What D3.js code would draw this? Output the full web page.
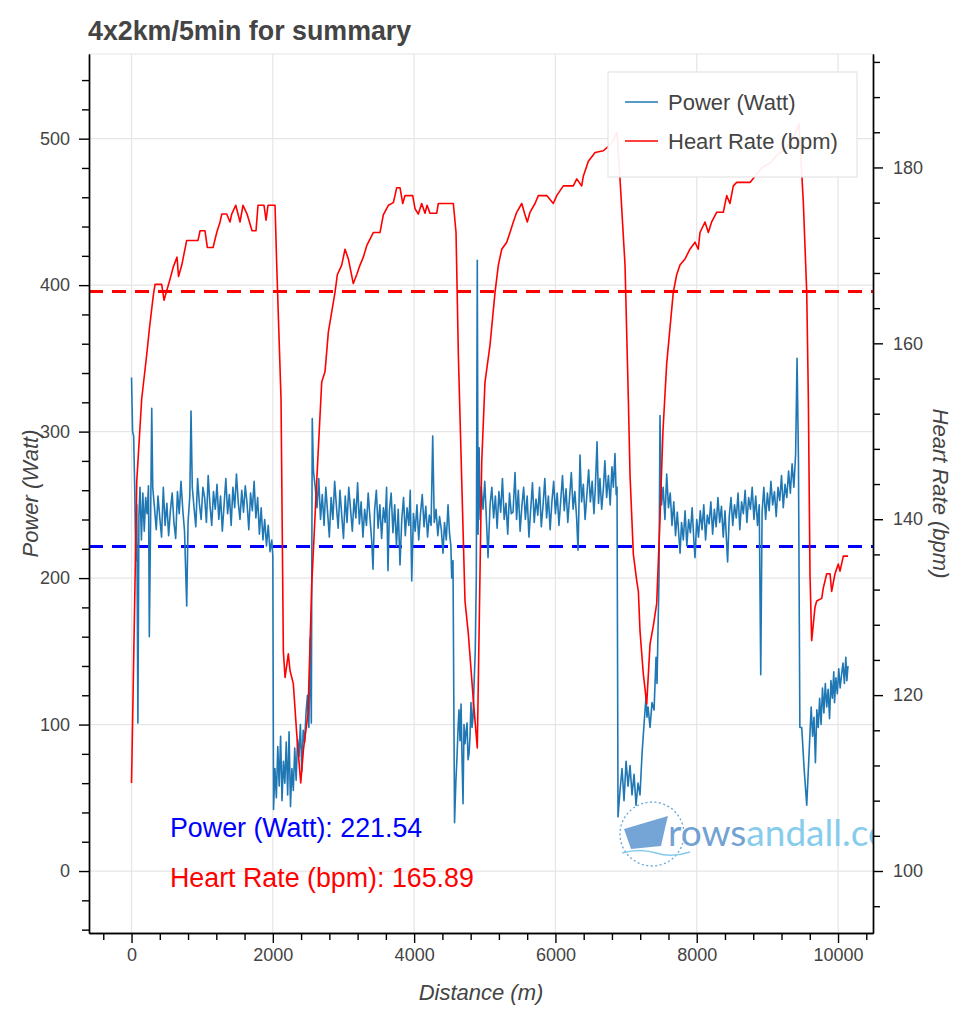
<!DOCTYPE html>
<html><head><meta charset="utf-8">
<script src="https://cdn.jsdelivr.net/npm/d3@7"></script>
<style>
body{margin:0;background:#fff;}
svg{display:block;font-family:"Liberation Sans",Arial,Helvetica,sans-serif;}
</style>
</head><body>
<svg id="chart" width="960" height="1010"></svg>
<script>
// ---------------- data ----------------
const chartTitle = "4x2km/5min for summary";
const seriesNames = ["Power (Watt)", "Heart Rate (bpm)"];
const avgPower = 221.54;
const avgHR = 165.89;

const distanceTicks = [0, 2000, 4000, 6000, 8000, 10000];
const powerTicks = [0, 100, 200, 300, 400, 500];
const hrTicks = [100, 120, 140, 160, 180];

// [distance m, power W]
const powerSeries = [
[0,337],[15,300],[30,297],[45,262],[60,212],[75,250],[90,101],[105,243],[120,262],[140,226],
[160,258],[180,232],[200,255],[220,244],[240,263],[252,160],[270,240],[286,316],[300,262],[325,248],
[350,233],[375,256],[400,241],[425,228],[450,262],[475,236],[500,251],[525,229],[550,246],[575,258],
[600,238],[625,227],[650,259],[675,244],[700,266],[725,247],[750,232],[781,181],[800,238],[825,256],
[842,314],[860,262],[885,248],[910,235],[935,268],[960,251],[985,240],[1010,262],[1035,255],[1060,238],
[1085,270],[1110,250],[1135,236],[1160,259],[1185,247],[1210,264],[1235,240],[1260,256],[1285,232],[1310,250],
[1335,268],[1360,244],[1385,257],[1410,236],[1435,262],[1460,248],[1485,271],[1510,252],[1535,240],[1560,260],
[1585,245],[1610,263],[1635,251],[1660,233],[1685,258],[1710,246],[1735,266],[1760,241],[1785,255],[1810,230],
[1835,248],[1860,226],[1885,240],[1910,222],[1935,236],[1960,218],[1985,226],[2000,215],[2010,42],
[2030,70],[2050,50],[2070,85],[2090,58],[2110,92],[2130,48],[2150,75],[2170,60],[2190,88],[2210,52],
[2230,95],[2250,44],[2270,70],[2290,55],[2310,84],[2330,62],[2350,90],[2370,78],[2390,100],[2410,68],
[2430,96],[2450,88],[2470,108],[2490,120],[2510,98],[2530,159],[2545,101],[2558,309],[2575,273],[2600,262],
[2625,248],[2650,268],[2675,240],[2700,257],[2725,236],[2750,262],[2775,245],[2800,228],[2825,255],[2850,240],
[2875,266],[2900,249],[2925,234],[2950,260],[2975,243],[3000,227],[3025,256],[3050,238],[3075,262],[3100,247],
[3125,232],[3150,254],[3175,241],[3200,265],[3225,237],[3250,252],[3275,228],[3300,247],[3325,236],[3350,258],
[3375,241],[3400,225],[3418,206],[3440,246],[3465,260],[3490,234],[3515,250],[3540,227],[3565,248],[3590,238],
[3610,262],[3630,205],[3650,246],[3675,258],[3700,231],[3725,250],[3750,222],[3775,247],[3800,209],[3825,240],
[3850,255],[3875,229],[3900,248],[3925,236],[3945,260],[3966,198],[3990,244],[4015,232],[4040,250],[4065,226],
[4090,244],[4115,257],[4140,235],[4165,249],[4190,228],[4215,243],[4240,236],[4263,297],[4285,238],[4310,247],
[4335,229],[4360,242],[4385,233],[4409,217],[4430,238],[4455,226],[4480,250],[4500,231],[4520,222],[4532,200],
[4550,212],[4572,33],[4590,60],[4607,78],[4622,98],[4635,110],[4650,89],[4664,114],[4680,72],[4692,46],
[4706,100],[4720,87],[4735,95],[4749,101],[4763,76],[4777,80],[4791,92],[4805,115],[4820,98],[4834,105],
[4850,130],[4865,150],[4880,200],[4894,417],[4905,230],[4920,289],[4935,240],[4950,262],
[4975,247],[5000,266],[5025,238],[5046,214],[5075,250],[5100,262],[5125,241],[5150,256],[5175,234],[5200,259],
[5225,245],[5250,268],[5275,240],[5300,251],[5325,230],[5350,258],[5375,244],[5400,245],[5428,272],[5450,240],
[5475,260],[5500,232],[5525,249],[5550,262],[5575,240],[5600,256],[5625,228],[5650,247],[5675,265],[5700,238],
[5725,254],[5750,243],[5775,262],[5800,235],[5825,250],[5850,268],[5875,241],[5900,256],[5925,233],[5950,252],
[5975,266],[6000,244],[6025,258],[6050,236],[6075,253],[6100,270],[6125,246],[6150,261],[6175,238],[6200,255],
[6225,272],[6250,247],[6275,259],[6300,241],[6320,219],[6348,284],[6370,252],[6395,264],[6420,240],[6445,257],
[6470,274],[6495,252],[6520,266],[6545,244],[6565,262],[6589,293],[6610,251],[6630,268],[6655,247],[6680,262],
[6700,280],[6725,255],[6750,270],[6775,250],[6800,276],[6820,262],[6843,285],[6860,257],[6872,262],[6886,37],
[6914,55],[6943,70],[6971,48],[7000,75],[7028,58],[7056,72],[7084,52],[7113,66],[7141,45],[7169,60],
[7197,52],[7226,80],[7254,100],[7282,119],[7296,105],[7311,112],[7339,98],[7367,115],[7396,110],[7424,146],
[7438,128],[7466,200],[7480,311],[7502,250],[7525,262],[7550,240],[7575,271],[7600,248],[7625,258],[7650,236],
[7675,252],[7700,229],[7725,245],[7764,217],[7785,238],[7810,226],[7835,246],[7860,222],[7885,240],[7910,231],
[7935,248],[7960,225],[7976,214],[8000,240],[8025,228],[8050,246],[8075,233],[8100,250],[8125,226],[8150,243],
[8175,237],[8200,252],[8225,230],[8250,247],[8275,235],[8300,255],[8325,238],[8350,249],[8375,228],[8400,246],
[8437,211],[8460,242],[8485,255],[8510,236],[8535,250],[8560,241],[8585,258],[8610,233],[8635,252],[8660,244],
[8685,260],[8710,238],[8735,255],[8760,247],[8785,262],[8810,240],[8835,256],[8860,236],[8885,250],[8906,134],
[8925,245],[8950,262],[8975,240],[9000,258],[9025,246],[9050,266],[9075,250],[9100,259],[9125,242],[9150,262],
[9175,253],[9200,270],[9225,248],[9250,264],[9275,255],[9300,273],[9325,258],[9350,278],[9375,262],[9400,285],
[9420,350],[9440,280],[9460,98],[9486,98],[9520,70],[9557,45],[9590,80],[9620,112],[9640,92],[9660,105],
[9680,74],[9700,110],[9720,98],[9740,118],[9760,100],[9780,125],[9800,108],[9820,128],[9840,112],[9860,124],
[9880,104],[9900,130],[9920,118],[9940,136],[9950,115],[9970,132],[9990,121],[10010,138],[10030,125],[10050,134],
[10070,142],[10090,128],[10110,146],[10125,130],[10141,140]
];

// [distance m, heart rate bpm]
const hrSeries = [
[0,110.0],[74,144.3],[144,153.7],[215,158.7],[252,161.6],[309,165.5],[333,166.7],[427,166.7],[460,164.9],[545,167.3],
[592,168.7],[644,169.8],[665,167.6],[711,168.9],[781,171.7],[941,171.7],[970,172.8],[1040,172.8],[1073,170.9],[1154,170.9],
[1206,172.6],[1253,173.8],[1277,174.7],[1347,174.7],[1394,173.8],[1418,174.7],[1475,175.7],[1536,173.8],[1578,175.7],[1635,174.7],
[1706,172.8],[1762,172.8],[1790,175.7],[1875,175.7],[1904,174.0],[1932,175.7],[2031,175.7],[2055,168.9],[2116,153.7],[2149,125.0],
[2173,122.0],[2219,124.7],[2243,122.8],[2290,121.3],[2338,115.6],[2395,110.0],[2432,113.7],[2498,117.9],[2551,132.6],[2621,144.3],
[2692,155.6],[2739,156.8],[2786,161.3],[2880,165.8],[2913,167.8],[2975,168.9],[3022,170.7],[3069,169.6],[3139,166.8],[3187,167.8],
[3234,168.9],[3281,169.8],[3329,171.1],[3422,172.6],[3517,172.6],[3564,174.6],[3635,175.7],[3706,176.0],[3754,177.7],[3800,177.7],
[3839,175.9],[3871,176.8],[3980,176.8],[4013,175.3],[4059,174.7],[4107,175.9],[4154,174.8],[4183,175.7],[4225,174.8],[4320,174.8],
[4342,175.9],[4555,175.9],[4593,172.6],[4626,158.7],[4674,144.3],[4720,130.7],[4767,127.0],[4838,119.4],[4894,114.0],[4957,146.6],
[5003,155.6],[5074,159.8],[5145,165.8],[5192,168.9],[5240,170.7],[5311,171.5],[5357,172.6],[5404,173.8],[5452,174.9],[5523,175.9],
[5570,174.6],[5602,173.8],[5640,174.9],[5711,175.9],[5758,176.8],[5877,176.8],[5970,175.9],[6018,176.8],[6112,177.9],[6253,177.9],
[6302,178.7],[6372,177.9],[6395,179.0],[6466,180.7],[6561,181.7],[6678,181.9],[6749,182.4],[6815,183.0],[6872,184.0],[6914,178.7],
[6985,168.9],[7032,153.7],[7056,145.0],[7103,136.0],[7151,133.0],[7174,131.8],[7197,127.3],[7244,122.4],[7292,119.0],[7339,125.8],
[7386,127.9],[7433,130.4],[7480,140.0],[7522,150.0],[7574,157.6],[7668,165.8],[7716,167.8],[7763,168.9],[7834,169.6],[7904,170.7],
[7975,171.5],[8022,170.7],[8046,172.6],[8117,173.8],[8164,172.6],[8211,173.8],[8282,174.9],[8376,174.9],[8424,176.8],[8470,175.9],
[8518,177.9],[8565,178.3],[8754,178.3],[8825,179.0],[8924,180.0],[9037,180.5],[9150,181.5],[9249,182.0],[9320,183.0],[9405,184.0],
[9447,185.0],[9486,179.4],[9509,176.0],[9557,165.8],[9580,153.7],[9603,133.8],[9627,126.2],[9674,130.0],[9698,130.7],[9769,131.0],
[9792,132.2],[9840,133.8],[9887,133.8],[9910,131.8],[9957,133.8],[10004,134.9],[10028,134.1],[10075,135.8],[10141,135.8]
];

// ---------------- layout ----------------
const L = 89, R = 873, T = 54, B = 933;
const svg = d3.select("#chart");
const x = d3.scaleLinear().domain([-602, 10495]).range([L, R]);
const yP = d3.scaleLinear().domain([-42.3, 557.8]).range([B, T]);
const yH = d3.scaleLinear().domain([92.95, 192.9]).range([B, T]);

const gridColor = "#e5e5e5";
const textColor = "#444";
const powerColor = "#1f77b4";

// grid
const grid = svg.append("g");
grid.selectAll(".gx").data(distanceTicks).join("line")
  .attr("x1", d => x(d)).attr("x2", d => x(d)).attr("y1", T).attr("y2", B)
  .attr("stroke", gridColor).attr("stroke-width", 1.2);
grid.selectAll(".gy").data(powerTicks).join("line")
  .attr("x1", L).attr("x2", R).attr("y1", d => yP(d)).attr("y2", d => yP(d))
  .attr("stroke", gridColor).attr("stroke-width", 1.2);
svg.append("line").attr("x1", L).attr("x2", R).attr("y1", T).attr("y2", T)
  .attr("stroke", gridColor).attr("stroke-width", 1.2);

// clip
svg.append("clipPath").attr("id", "plotclip").append("rect")
  .attr("x", L).attr("y", T).attr("width", R - L).attr("height", B - T);
const plot = svg.append("g").attr("clip-path", "url(#plotclip)");

// watermark
const wm = plot.append("g").attr("opacity", 0.85);
wm.append("circle").attr("cx", 652).attr("cy", 834).attr("r", 32)
  .attr("fill", "none").attr("stroke", "#4a9ad6").attr("stroke-width", 1.3)
  .attr("stroke-dasharray", "2,2.5");
wm.append("path").attr("d", "M624,829 L668,816 L666,824 L661,846 L631,849 Z")
  .attr("fill", "#5d95cf");
wm.append("path").attr("d", "M622,853 Q640,848 656,853 T690,852")
  .attr("fill", "none").attr("stroke", "#6ec3ea").attr("stroke-width", 1.5);
const wmText = wm.append("text").attr("x", 668).attr("y", 846)
  .attr("font-size", 37).attr("font-family", "Lato, 'Liberation Sans', sans-serif");
wmText.append("tspan").attr("fill", "#5a92cc").text("rows");
wmText.append("tspan").attr("fill", "#72c4ea").text("andall.com");

// average lines
plot.append("line").attr("x1", L).attr("x2", R)
  .attr("y1", yP(avgPower)).attr("y2", yP(avgPower))
  .attr("stroke", "#0000ff").attr("stroke-width", 3).attr("stroke-dasharray", "14,9");
plot.append("line").attr("x1", L).attr("x2", R)
  .attr("y1", yH(avgHR)).attr("y2", yH(avgHR))
  .attr("stroke", "#ff0000").attr("stroke-width", 3).attr("stroke-dasharray", "14,9");

// series lines
const lineP = d3.line().x(d => x(d[0])).y(d => yP(d[1]));
const lineH = d3.line().x(d => x(d[0])).y(d => yH(d[1]));
plot.append("path").datum(powerSeries).attr("d", lineP)
  .attr("fill", "none").attr("stroke", powerColor).attr("stroke-width", 1.6)
  .attr("stroke-linejoin", "round");
plot.append("path").datum(hrSeries).attr("d", lineH)
  .attr("fill", "none").attr("stroke", "#ff0000").attr("stroke-width", 1.6)
  .attr("stroke-linejoin", "round");

// annotations
svg.append("text").attr("x", 170).attr("y", 837).attr("font-size", 26.8)
  .attr("fill", "#0000ff").text(`${seriesNames[0]}: ${avgPower.toFixed(2)}`);
svg.append("text").attr("x", 170).attr("y", 887).attr("font-size", 26.8)
  .attr("fill", "#ff0000").text(`${seriesNames[1]}: ${avgHR.toFixed(2)}`);

// axes
function styleAxis(g) {
  g.attr("font-family", null).attr("font-size", null);
  g.selectAll("path.domain").attr("stroke", "#000").attr("stroke-width", 1.4);
  g.selectAll(".tick line").attr("stroke", "#000").attr("stroke-width", 1.4);
  g.selectAll(".tick text").attr("fill", textColor).attr("font-size", 18);
}
const minorP = d3.range(-40, 541, 20).filter(v => v % 100 !== 0);
const minorH = d3.range(96, 193, 4).filter(v => v % 20 !== 0);
const minorX = d3.range(-400, 10401, 400).filter(v => v % 2000 !== 0);

svg.append("g").attr("transform", `translate(${L},0)`)
  .call(d3.axisLeft(yP).tickValues(minorP).tickSize(7).tickSizeOuter(0).tickFormat(""))
  .call(styleAxis);
svg.append("g").attr("transform", `translate(${L},0)`)
  .call(d3.axisLeft(yP).tickValues(powerTicks).tickSize(10).tickSizeOuter(0).tickPadding(9))
  .call(styleAxis);

svg.append("g").attr("transform", `translate(${R},0)`)
  .call(d3.axisRight(yH).tickValues(minorH).tickSize(7).tickSizeOuter(0).tickFormat(""))
  .call(styleAxis);
svg.append("g").attr("transform", `translate(${R},0)`)
  .call(d3.axisRight(yH).tickValues(hrTicks).tickSize(10).tickSizeOuter(0).tickPadding(10))
  .call(styleAxis);

svg.append("g").attr("transform", `translate(0,${B})`)
  .call(d3.axisBottom(x).tickValues(minorX).tickSize(7).tickSizeOuter(0).tickFormat(""))
  .call(styleAxis);
svg.append("g").attr("transform", `translate(0,${B})`)
  .call(d3.axisBottom(x).tickValues(distanceTicks).tickSize(10).tickSizeOuter(0).tickPadding(5).tickFormat(d3.format("d")))
  .call(styleAxis);

// axis titles
svg.append("text").attr("transform", `translate(30,${(T + B) / 2}) rotate(-90)`)
  .attr("text-anchor", "middle").attr("dominant-baseline", "central")
  .attr("font-size", 22).attr("font-style", "italic").attr("fill", textColor).text(seriesNames[0]);
svg.append("text").attr("transform", `translate(940,${(T + B) / 2}) rotate(90)`)
  .attr("text-anchor", "middle").attr("dominant-baseline", "central")
  .attr("font-size", 22).attr("font-style", "italic").attr("fill", textColor).text(seriesNames[1]);
svg.append("text").attr("x", (L + R) / 2).attr("y", 992)
  .attr("text-anchor", "middle").attr("dominant-baseline", "central")
  .attr("font-size", 22).attr("font-style", "italic").attr("fill", textColor).text("Distance (m)");

// title
svg.append("text").attr("x", 88).attr("y", 40).attr("font-size", 26.8)
  .attr("font-weight", "bold").attr("fill", textColor).text(chartTitle);

// legend
const lg = svg.append("g");
lg.append("rect").attr("x", 608).attr("y", 72).attr("width", 249).attr("height", 105)
  .attr("fill", "#fff").attr("fill-opacity", 0.93).attr("stroke", "#e5e5e5").attr("stroke-width", 1.2);
const legendItems = [{name: seriesNames[0], color: powerColor, y: 102}, {name: seriesNames[1], color: "#ff0000", y: 141}];
lg.selectAll(".li").data(legendItems).join("g").each(function(d) {
  const g = d3.select(this);
  g.append("line").attr("x1", 625).attr("x2", 658).attr("y1", d.y).attr("y2", d.y)
    .attr("stroke", d.color).attr("stroke-width", 1.7);
  g.append("text").attr("x", 668).attr("y", d.y).attr("dominant-baseline", "central")
    .attr("font-size", 22).attr("fill", textColor).text(d.name);
});
</script>
</body></html>
